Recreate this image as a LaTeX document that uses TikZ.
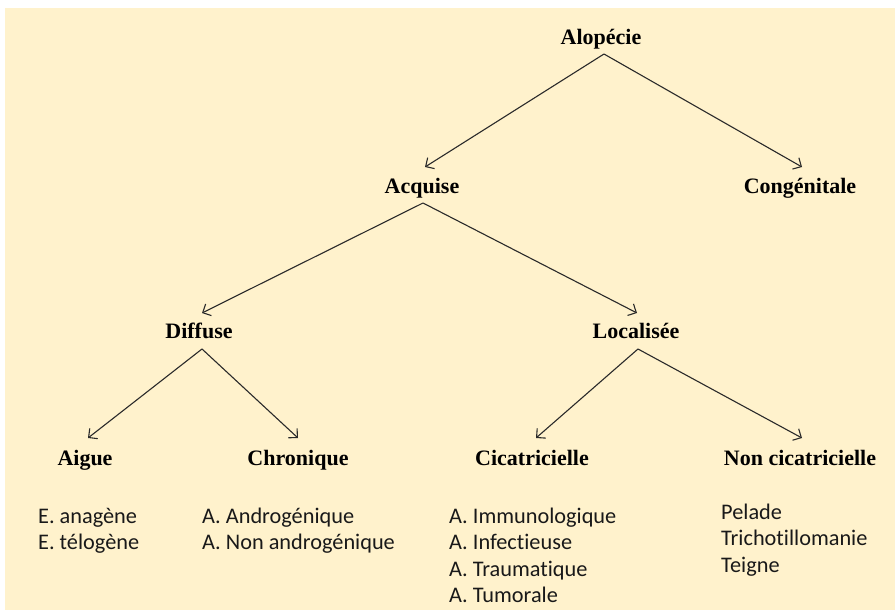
\documentclass[tikz,border=0pt]{standalone}
\usepackage{fontspec}
\setmainfont{Liberation Serif}
\newfontfamily\listfont[Ligatures={NoCommon,NoRequired,NoContextual},RawFeature={-liga;-dlig;-clig}]{Carlito}
\usetikzlibrary{arrows.meta}
\definecolor{bgbeige}{HTML}{FFF2CC}
\definecolor{linegray}{HTML}{2A2A2A}
\tikzset{
  title/.style={inner sep=0pt, anchor=base, font=\fontsize{22}{26}\selectfont\bfseries},
  item/.style={inner sep=0pt, anchor=base west, font=\listfont\fontsize{22.3}{26}\selectfont, text=black!90},
  arr/.style={draw=linegray, line width=1.1pt, -{Straight Barb[length=6.5pt,width=13pt,line width=1.1pt]}}
}
\begin{document}
\begin{tikzpicture}[x=1pt,y=-1pt]
\useasboundingbox (0,0) rectangle (895,610);
\fill[white] (0,0) rectangle (895,610);
\fill[bgbeige] (5,8) rectangle (895,610);

\node[title] (alo) at (601,45) {Alopécie};
\node[title] (acq) at (422,193) {Acquise};
\node[title] (con) at (800,193) {Congénitale};
\node[title] (dif) at (199,338) {Diffuse};
\node[title] (loc) at (636,338) {Localisée};
\node[title] (aig) at (85,465) {Aigue};
\node[title] (chr) at (298,465) {Chronique};
\node[title] (cic) at (532,465) {Cicatricielle};
\node[title] (non) at (800,465) {Non cicatricielle};

\draw[arr] ([xshift=3pt,yshift=-9pt]alo.base) -- ([xshift=3pt,yshift=26pt]acq.base);
\draw[arr] ([xshift=3pt,yshift=-9pt]alo.base) -- ([xshift=2pt,yshift=26pt]con.base);
\draw[arr] ([xshift=1pt,yshift=-10pt]acq.base) -- ([xshift=3pt,yshift=25pt]dif.base);
\draw[arr] ([xshift=1pt,yshift=-10pt]acq.base) -- ([xshift=1pt,yshift=25pt]loc.base);
\draw[arr] ([xshift=3pt,yshift=-11pt]dif.base) -- ([xshift=3pt,yshift=27pt]aig.base);
\draw[arr] ([xshift=3pt,yshift=-11pt]dif.base) -- ([xshift=0pt,yshift=27pt]chr.base);
\draw[arr] ([xshift=2pt,yshift=-11pt]loc.base) -- ([xshift=4pt,yshift=27pt]cic.base);
\draw[arr] ([xshift=2pt,yshift=-11pt]loc.base) -- ([xshift=2pt,yshift=27pt]non.base);

\node[item] (aig1) at (38,523) {E. anagène};
\node[item] (aig2) at (38,549) {E. télogène};
\node[item] (chr1) at (202,523) {A. Androgénique};
\node[item] (chr2) at (202,549) {A. Non androgénique};
\node[item] (cic1) at (449,523) {A. Immunologique};
\node[item] (cic2) at (449,549) {A. Infectieuse};
\node[item] (cic3) at (449,576) {A. Traumatique};
\node[item] (cic4) at (449,602) {A. Tumorale};
\node[item] (non1) at (721,519) {Pelade};
\node[item] (non2) at (721,545) {Trichotillomanie};
\node[item] (non3) at (721,572) {Teigne};
\end{tikzpicture}
\end{document}
